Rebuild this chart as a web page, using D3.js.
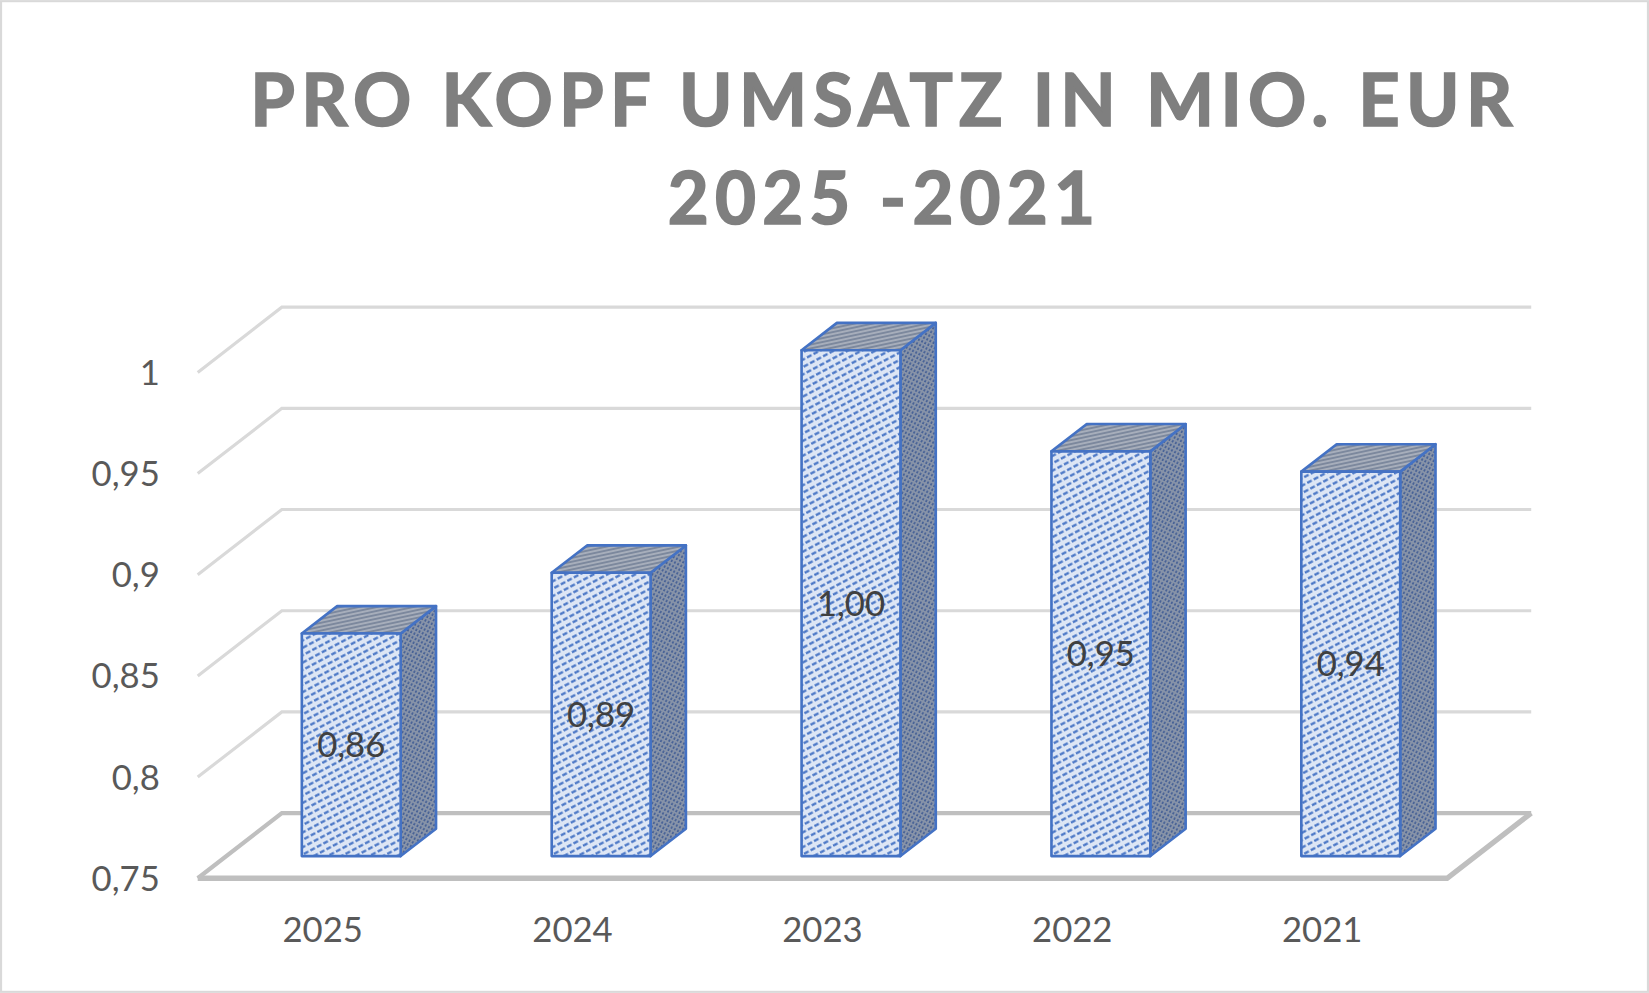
<!DOCTYPE html>
<html>
<head>
<meta charset="utf-8">
<script src="https://cdn.jsdelivr.net/npm/d3@7"></script>
<style>
  html, body { margin: 0; padding: 0; background: #fff; }
  svg { display: block; }
</style>
</head>
<body>
<svg id="chart"></svg>
<script>

// chart data
var years = ['2025', '2024', '2023', '2022', '2021'];
var values = [0.86, 0.89, 1.00, 0.95, 0.94];
var yTicks = [0.75, 0.8, 0.85, 0.9, 0.95, 1];
var titleLines = ['PRO KOPF UMSATZ IN MIO. EUR', '2025 -2021'];

function draw_chart(){

    var W = 1568, H = 944;
    var svg = d3.select('#chart')
        .attr('width', 1649).attr('height', 993)
        .attr('viewBox', '0 0 ' + W + ' ' + H);

    // depth of the 3d box: back wall -> front edge
    var DX = -80, DY = 62;

    var x = d3.scaleBand().domain(years).range([268, 1456]);
    var y = d3.scaleLinear().domain([0.75, 1.0]).range([773, 292]);

    function proj(px, py, f){ return [px + DX * f, py + DY * f]; }

    var fmt = function(v, dec){
        var s = dec ? v.toFixed(dec) : String(+v.toFixed(2));
        return s.replace('.', ',');
    };

    // patterns
    var defs = svg.append('defs');
    function hatch(id, w, h, rot, bg, col, sw, dash){
        var p = defs.append('pattern').attr('id', id)
            .attr('patternUnits', 'userSpaceOnUse')
            .attr('width', w).attr('height', h)
            .attr('patternTransform', 'rotate(' + rot + ')');
        p.append('rect').attr('width', w).attr('height', h).attr('fill', bg);
        p.append('line').attr('x1', 0).attr('x2', dash).attr('y1', h/2).attr('y2', h/2)
            .attr('stroke', col).attr('stroke-width', sw);
    }
    hatch('pFront', 7, 6.2, -28, '#dde6f5', '#4472c4', 2.1, 4.8);
    hatch('pSide', 4, 3.4, -62, '#8793a8', '#2f4f8f', 1.2, 2.2);
    hatch('pTop', 10, 3.6, -12, '#a7aebb', '#61708a', 1.1, 10);

    // outer border
    svg.append('rect').attr('x', 1).attr('y', 1).attr('width', W - 2).attr('height', H - 2)
        .attr('fill', '#fff').attr('stroke', '#d9d9d9').attr('stroke-width', 2);

    // title (thin stroke to get closer to the heavier original weight)
    var title = svg.append('g');
    title.selectAll('text').data(titleLines).enter().append('text')
        .attr('x', 841)
        .attr('y', function(d, i){ return 120 + i * 93; })
        .attr('text-anchor', 'middle')
        .attr('font-family', 'Lato')
        .attr('font-weight', 'bold')
        .attr('font-size', '69px')
        .attr('letter-spacing', '6px')
        .attr('fill', '#7f7f7f')
        .attr('stroke', '#7f7f7f')
        .attr('stroke-width', 1.6)
        .attr('textLength', function(d, i){ return i == 0 ? 1206 : 412; })
        .attr('lengthAdjust', 'spacingAndGlyphs')
        .text(function(d){ return d; });

    // back wall + side wall gridlines
    var x0 = x.range()[0], x1 = x.range()[1];
    var grid = svg.append('g');
    yTicks.forEach(function(v){
        var yb = y(v);
        var isFloor = v == 0.75;
        var front = proj(x0, yb, 1);
        grid.append('path')
            .attr('d', 'M' + front[0] + ',' + front[1] + 'L' + x0 + ',' + yb + 'L' + x1 + ',' + yb)
            .attr('fill', 'none')
            .attr('stroke', isFloor ? '#bfbfbf' : '#d9d9d9')
            .attr('stroke-width', isFloor ? 4 : 3);
    });

    // floor front edges
    var fl = proj(x0, y(0.75), 1), fr = proj(x1, y(0.75), 1);
    grid.append('path')
        .attr('d', 'M' + fl[0] + ',' + fl[1] + 'L' + fr[0] + ',' + fr[1] + 'L' + x1 + ',' + y(0.75))
        .attr('fill', 'none').attr('stroke', '#bfbfbf').attr('stroke-width', 5)
        .attr('stroke-linejoin', 'miter');

    // y labels
    svg.append('g').selectAll('text').data(yTicks).enter().append('text')
        .attr('x', 152)
        .attr('y', function(d){ return proj(0, y(d), 1)[1]; })
        .attr('dy', '0.36em')
        .attr('text-anchor', 'end')
        .attr('font-family', 'Lato')
        .attr('font-size', '33px')
        .attr('fill', '#595959')
        .text(function(d){ return fmt(d); });

    // x labels
    svg.append('g').selectAll('text').data(years).enter().append('text')
        .attr('x', function(d){ return x(d) + x.bandwidth() / 2 + DX; })
        .attr('y', 884)
        .attr('dy', '0.36em')
        .attr('text-anchor', 'middle')
        .attr('font-family', 'Lato')
        .attr('font-size', '33px')
        .attr('fill', '#595959')
        .text(function(d){ return d; });

    // bars
    var fF = 0.66, fB = 0.24, bw = 94;
    var bars = svg.append('g');
    years.forEach(function(yr, i){
        var v = values[i];
        var cx = x(yr) + x.bandwidth() / 2;
        var l = cx - bw / 2, r = cx + bw / 2;
        var bl = proj(l, y(0.75), fF), tl = proj(l, y(v), fF);
        var br = proj(r, y(0.75), fF), tr = proj(r, y(v), fF);
        var tlb = proj(l, y(v), fB), trb = proj(r, y(v), fB), brb = proj(r, y(0.75), fB);
        var g = bars.append('g')
            .attr('stroke', '#4472c4').attr('stroke-width', 2.5).attr('stroke-linejoin', 'round');

        g.append('path').attr('fill', 'url(#pSide)')
            .attr('d', 'M' + [tr, trb, brb, br].join('L') + 'Z');
        g.append('path').attr('fill', 'url(#pTop)')
            .attr('d', 'M' + [tl, tlb, trb, tr].join('L') + 'Z');
        g.append('path').attr('fill', 'url(#pFront)')
            .attr('d', 'M' + [tl, tr, br, bl].join('L') + 'Z');

        bars.append('text')
            .attr('x', (tl[0] + tr[0]) / 2)
            .attr('y', (tl[1] + bl[1]) / 2)
            .attr('dy', '0.36em')
            .attr('text-anchor', 'middle')
            .attr('font-family', 'Lato')
            .attr('font-size', '33px')
            .attr('fill', '#404040')
            .text(fmt(v, 2));
    });
}

draw_chart();
</script>
</body>
</html>
